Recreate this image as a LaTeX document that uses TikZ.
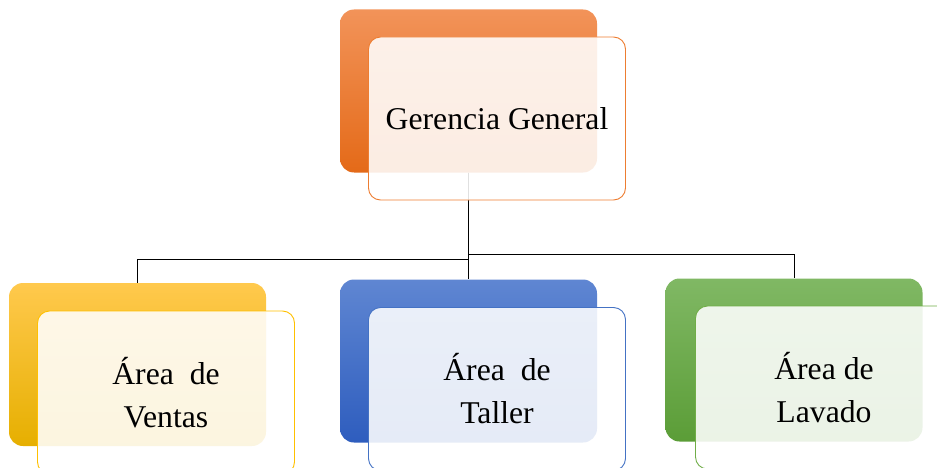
\documentclass[tikz,border=0pt]{standalone}
\usepackage{fontspec}
\setmainfont{Liberation Serif}
\usepackage{tikz}
\definecolor{orangetop}{HTML}{F29359}
\definecolor{orangebot}{HTML}{E46A18}
\definecolor{orangeline}{HTML}{ED7D31}
\definecolor{yellowtop}{HTML}{FFC94D}
\definecolor{yellowbot}{HTML}{E6AF00}
\definecolor{yellowline}{HTML}{FFC000}
\definecolor{bluetop}{HTML}{5F86D2}
\definecolor{bluebot}{HTML}{2E5DBE}
\definecolor{blueline}{HTML}{4472C4}
\definecolor{greentop}{HTML}{80B864}
\definecolor{greenbot}{HTML}{5B9D37}
\definecolor{greenline}{HTML}{70AD47}
\tikzset{
  backbox/.style={rounded corners=14pt,minimum width=257pt,minimum height=163pt,inner sep=0pt},
  frontbox/.style={rounded corners=12pt,minimum width=257pt,minimum height=163pt,inner sep=0pt,
    fill=white,fill opacity=0.88,text opacity=1,line width=0.9pt,align=center,
    font=\fontsize{31.7}{43}\selectfont},
  link/.style={line width=1pt,black}
}
\begin{document}
\begin{tikzpicture}[x=1pt,y=-1pt]
    \useasboundingbox (0,0) rectangle (937,468);
    \node[backbox,top color=orangetop,bottom color=orangebot] (gerb) at (468.5,91) {};
    \node[backbox,top color=yellowtop,bottom color=yellowbot] (ventasb) at (137.5,364.5) {};
    \node[backbox,top color=bluetop,bottom color=bluebot] (tallerb) at (468.5,361) {};
    \node[backbox,top color=greentop,bottom color=greenbot] (lavadob) at (794,360) {};
    \draw[link] (gerb.south) -- ++(0,87) -| (ventasb.north);
    \draw[link] (gerb.south) -- (tallerb.north);
    \draw[link] (gerb.south) -- ++(0,82) -| (lavadob.north);
    \node[frontbox,draw=orangeline] (ger) at (497,118.5) {Gerencia General};
    \node[frontbox,draw=yellowline] (ventas) at (166,392.5) {Área\ \ de\\Ventas};
    \node[frontbox,draw=blueline] (taller) at (497,389) {Área\ \ de\\Taller};
    \node[frontbox,draw=greenline] (lavado) at (824,387.5) {Área de\\Lavado};
\end{tikzpicture}
\end{document}
